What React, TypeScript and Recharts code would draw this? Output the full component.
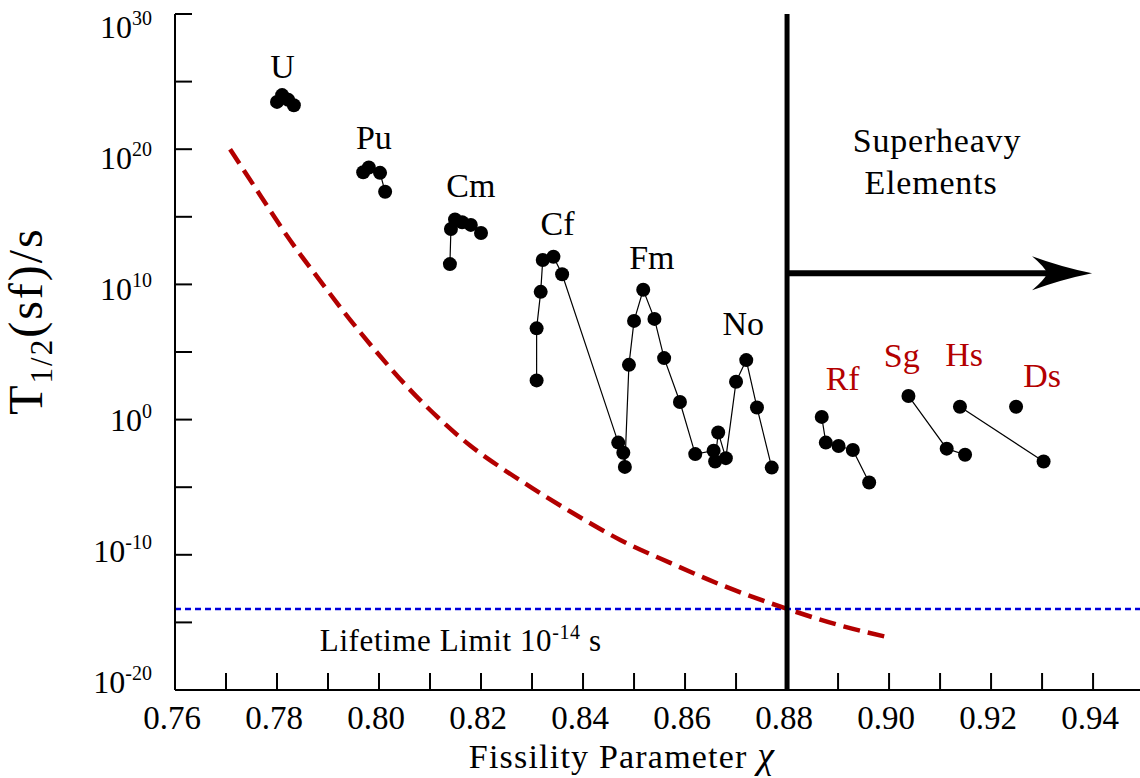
import React from "react";
import {
  ComposedChart,
  Scatter,
  Line,
  XAxis,
  YAxis,
  ReferenceLine,
  ReferenceDot,
} from "recharts";

// measured half-lives, log10(T1/2 / s) against fissility parameter chi
type Pt = { chi: number; logT: number };

const uranium: Pt[] = [
  { chi: 0.78, logT: 23.5 },
  { chi: 0.781, logT: 24.0 },
  { chi: 0.7822, logT: 23.65 },
  { chi: 0.7833, logT: 23.25 },
];

const plutonium: Pt[] = [
  { chi: 0.7969, logT: 18.3 },
  { chi: 0.798, logT: 18.65 },
  { chi: 0.8002, logT: 18.25 },
  { chi: 0.8012, logT: 16.85 },
];

const curium: Pt[] = [
  { chi: 0.8139, logT: 11.5 },
  { chi: 0.8141, logT: 14.1 },
  { chi: 0.8149, logT: 14.8 },
  { chi: 0.8163, logT: 14.6 },
  { chi: 0.818, logT: 14.4 },
  { chi: 0.82, logT: 13.8 },
];

// Cf, Fm and No are drawn as one connected run
const cfFmNo: Pt[] = [
  { chi: 0.8309, logT: 2.9 },
  { chi: 0.8309, logT: 6.75 },
  { chi: 0.8317, logT: 9.45 },
  { chi: 0.8321, logT: 11.8 },
  { chi: 0.8342, logT: 12.05 },
  { chi: 0.8359, logT: 10.75 },
  { chi: 0.8469, logT: -1.7 },
  { chi: 0.8479, logT: -2.45 },
  { chi: 0.8482, logT: -3.5 },
  { chi: 0.849, logT: 4.05 },
  { chi: 0.85, logT: 7.3 },
  { chi: 0.8518, logT: 9.6 },
  { chi: 0.854, logT: 7.45 },
  { chi: 0.8559, logT: 4.55 },
  { chi: 0.859, logT: 1.3 },
  { chi: 0.862, logT: -2.55 },
  { chi: 0.8656, logT: -2.3 },
  { chi: 0.8659, logT: -3.1 },
  { chi: 0.8665, logT: -0.95 },
  { chi: 0.868, logT: -2.85 },
  { chi: 0.87, logT: 2.8 },
  { chi: 0.872, logT: 4.4 },
  { chi: 0.8741, logT: 0.9 },
  { chi: 0.877, logT: -3.55 },
];

const rutherfordium: Pt[] = [
  { chi: 0.8868, logT: 0.2 },
  { chi: 0.8876, logT: -1.7 },
  { chi: 0.8901, logT: -1.95 },
  { chi: 0.8929, logT: -2.25 },
  { chi: 0.8961, logT: -4.65 },
];

const seaborgium: Pt[] = [
  { chi: 0.9038, logT: 1.75 },
  { chi: 0.9113, logT: -2.15 },
  { chi: 0.9149, logT: -2.6 },
];

const hassium: Pt[] = [
  { chi: 0.9139, logT: 0.95 },
  { chi: 0.9303, logT: -3.1 },
];

const darmstadtium: Pt[] = [{ chi: 0.9249, logT: 0.95 }];

// model curve (red dashed)
const modelCurve: Pt[] = [
  { chi: 0.7708, logT: 20.0 },
  { chi: 0.7767, logT: 16.6 },
  { chi: 0.7825, logT: 13.3 },
  { chi: 0.7884, logT: 10.3 },
  { chi: 0.7943, logT: 7.4 },
  { chi: 0.8002, logT: 4.7 },
  { chi: 0.8061, logT: 2.2 },
  { chi: 0.812, logT: 0.0 },
  { chi: 0.8178, logT: -1.9 },
  { chi: 0.8237, logT: -3.5 },
  { chi: 0.8302, logT: -5.1 },
  { chi: 0.8375, logT: -6.8 },
  { chi: 0.8473, logT: -8.9 },
  { chi: 0.8571, logT: -10.6 },
  { chi: 0.8669, logT: -12.2 },
  { chi: 0.8796, logT: -13.95 },
  { chi: 0.8897, logT: -15.15 },
  { chi: 0.8992, logT: -16.05 },
];

const elementNames = ["U", "Pu", "Cm", "Cf", "Fm", "No", "Rf", "Sg", "Hs", "Ds"];
const elementLabelChi = [0.7811, 0.799, 0.818, 0.835, 0.8535, 0.8714, 0.8909, 0.9025, 0.9147, 0.93];
const elementLabelLogT = [25.24, 20.0, 16.44, 13.65, 11.12, 6.26, 2.19, 3.87, 3.96, 2.39];
const superheavyNames = ["Rf", "Sg", "Hs", "Ds"];

const xTicks = [
  0.76, 0.77, 0.78, 0.79, 0.8, 0.81, 0.82, 0.83, 0.84, 0.85, 0.86, 0.87, 0.88, 0.89, 0.9, 0.91, 0.92,
  0.93, 0.94,
];
const yTickExponents = [-20, -15, -10, -5, 0, 5, 10, 15, 20, 25, 30];

const SHE_BOUNDARY = 0.88;
const LIFETIME_LIMIT = 1e-14;
const ARROW_LOG_T = 10.82;
const ARROW_END_CHI = 0.9398;

const FONT = "'Liberation Serif', 'Times New Roman', serif";
const RED = "#b30000";

const toSeries = (pts: Pt[]) => pts.map((p) => ({ chi: p.chi, t: Math.pow(10, p.logT) }));

const Dot = (props: any) => <circle cx={props.cx} cy={props.cy} r={7} fill="#000" />;

function XTick(props: any) {
  const { x, y, payload } = props;
  const v = payload.value as number;
  const labelled = Math.round(v * 100) % 2 === 0;
  return (
    <g>
      <line x1={x} y1={y} x2={x} y2={y - 17} stroke="#000" strokeWidth={2} />
      {labelled && (
        <text x={x - 3} y={y + 39} textAnchor="middle" fontFamily={FONT} fontSize={33} fill="#000">
          {v.toFixed(2)}
        </text>
      )}
    </g>
  );
}

function YTick(props: any) {
  const { x, y, payload } = props;
  const exp = Math.round(Math.log10(payload.value));
  const base = y + 3 + 0.031 * (690 - y);
  return (
    <g>
      <line x1={x} y1={y} x2={x + 17} y2={y} stroke="#000" strokeWidth={2} />
      {exp % 10 === 0 && (
        <text x={x - 23} y={base} textAnchor="end" fontFamily={FONT} fontSize={32} fill="#000">
          10
          <tspan fontSize={20} dy={-13}>
            {exp}
          </tspan>
        </text>
      )}
    </g>
  );
}

function XTitle(props: any) {
  const vb = props.viewBox || { x: 175, y: 690 };
  return (
    <text
      x={vb.x + 447}
      y={vb.y + 78}
      textAnchor="middle"
      fontFamily={FONT}
      fontSize={34}
      letterSpacing={1.2}
      fill="#000"
    >
      Fissility Parameter{"  "}
      <tspan fontStyle="italic" fontSize={38}>
        χ
      </tspan>
    </text>
  );
}

function YTitle() {
  return (
    <text
      transform="translate(42, 321) rotate(-90)"
      textAnchor="middle"
      fontFamily={FONT}
      fontSize={48}
      letterSpacing={2}
      fill="#000"
    >
      T
      <tspan fontSize={31} dy={10}>
        1/2
      </tspan>
      <tspan dy={-10}>(sf)/s</tspan>
    </text>
  );
}

function Arrow(props: any) {
  const { x1, y1, x2 } = props;
  const y = y1;
  const head = `M ${x2} ${y} Q ${x2 - 30} ${y - 6} ${x2 - 60} ${y - 17} Q ${x2 - 47} ${y - 6} ${x2 - 45} ${y} Q ${x2 - 47} ${y + 6} ${x2 - 60} ${y + 17} Q ${x2 - 30} ${y + 6} ${x2} ${y} Z`;
  return (
    <g>
      <line x1={x1} y1={y} x2={x2 - 44} y2={y} stroke="#000" strokeWidth={6} />
      <path d={head} fill="#000" />
    </g>
  );
}

const groups = [uranium, plutonium, curium, cfFmNo, rutherfordium, seaborgium, hassium, darmstadtium];

export default function App() {
  return (
    <div style={{ position: "absolute", left: 0, top: 0, width: 1140, height: 778, background: "#fff" }}>
      <ComposedChart width={1140} height={778} margin={{ top: 14, right: 0, bottom: 0, left: 0 }}>
        <XAxis
          type="number"
          dataKey="chi"
          domain={[0.76, 0.9492]}
          allowDataOverflow
          ticks={xTicks}
          interval={0}
          tick={<XTick />}
          tickLine={false}
          tickSize={0}
          tickMargin={0}
          height={88}
          axisLine={{ stroke: "#000", strokeWidth: 2 }}
          label={<XTitle />}
        />
        <YAxis
          type="number"
          dataKey="t"
          scale="log"
          domain={[1e-20, 1e30]}
          allowDataOverflow
          ticks={yTickExponents.map((e) => Math.pow(10, e))}
          interval={0}
          tick={<YTick />}
          tickLine={false}
          tickSize={0}
          tickMargin={0}
          width={175}
          axisLine={{ stroke: "#000", strokeWidth: 2 }}
          label={<YTitle />}
        />
        <ReferenceLine y={LIFETIME_LIMIT} stroke="#0000dd" strokeWidth={2.5} strokeDasharray="6 4" />
        <Line
          data={toSeries(modelCurve)}
          dataKey="t"
          type="monotone"
          stroke={RED}
          strokeWidth={4.5}
          strokeDasharray="17 8"
          dot={false}
          activeDot={false}
          isAnimationActive={false}
        />
        <ReferenceLine x={SHE_BOUNDARY} stroke="#000" strokeWidth={5} />
        <ReferenceLine
          segment={[
            { x: SHE_BOUNDARY, y: Math.pow(10, ARROW_LOG_T) },
            { x: ARROW_END_CHI, y: Math.pow(10, ARROW_LOG_T) },
          ]}
          shape={<Arrow />}
        />
        {groups.map((g, i) => (
          <Scatter
            key={i}
            data={toSeries(g)}
            line={{ stroke: "#000", strokeWidth: 1.2 }}
            shape={<Dot />}
            isAnimationActive={false}
          />
        ))}
        {elementNames.map((name, i) => (
          <ReferenceDot
            key={name}
            x={elementLabelChi[i]}
            y={Math.pow(10, elementLabelLogT[i])}
            r={0}
            shape={(p: any) => (
              <text
                x={p.cx}
                y={p.cy}
                textAnchor="middle"
                fontFamily={FONT}
                fontSize={34}
                fill={superheavyNames.includes(name) ? RED : "#000"}
              >
                {name}
              </text>
            )}
          />
        ))}
        <ReferenceDot
          x={0.909}
          y={Math.pow(10, 19.82)}
          r={0}
          shape={(p: any) => (
            <text textAnchor="middle" fontFamily={FONT} fontSize={34} letterSpacing={0.8} fill="#000">
              <tspan x={p.cx + 2} y={p.cy}>
                Superheavy
              </tspan>
              <tspan x={p.cx - 4} y={p.cy + 42}>
                Elements
              </tspan>
            </text>
          )}
        />
        <ReferenceDot
          x={0.7884}
          y={Math.pow(10, -17.09)}
          r={0}
          shape={(p: any) => (
            <text x={p.cx} y={p.cy} fontFamily={FONT} fontSize={31} letterSpacing={0.6} fill="#000">
              Lifetime Limit 10
              <tspan fontSize={20} dy={-12}>
                -14
              </tspan>
              <tspan dy={12}> s</tspan>
            </text>
          )}
        />
      </ComposedChart>
    </div>
  );
}
